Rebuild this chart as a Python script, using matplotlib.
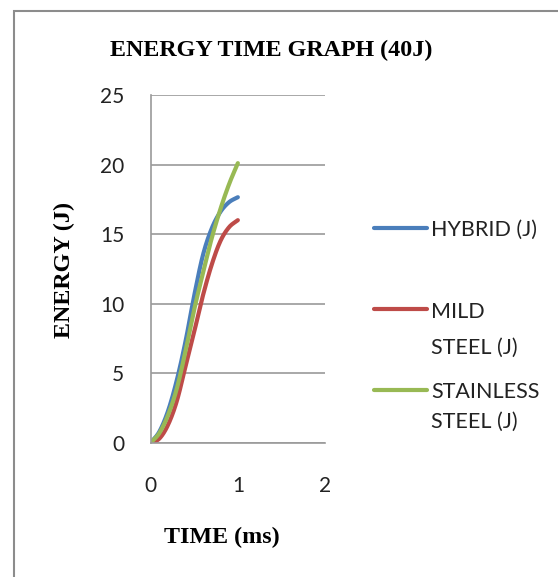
import numpy as np
import matplotlib
matplotlib.use("Agg")
import matplotlib.pyplot as plt
from matplotlib.lines import Line2D
from matplotlib.patches import Rectangle

# Energy absorbed over time for the three specimens (40 J impact)
time_ms = [0.0, 0.1, 0.2, 0.3, 0.4, 0.5, 0.6, 0.7, 0.8, 0.9, 1.0]
hybrid = [0.0, 0.8, 2.3, 4.5, 7.3, 10.6, 13.5, 15.4, 16.6, 17.3, 17.65]
mild_steel = [0.0, 0.3, 1.3, 3.0, 5.5, 8.0, 10.6, 12.8, 14.5, 15.5, 16.0]
stainless_steel = [0.0, 0.7, 2.0, 3.9, 6.6, 9.6, 12.2, 14.7, 16.8, 18.6, 20.1]

series_names = [["HYBRID (J)"], ["MILD", "STEEL (J)"], ["STAINLESS", "STEEL (J)"]]
series_colors = ["#4A7EBB", "#BE4B48", "#98B954"]
x_ticks = [0, 1, 2]
y_ticks = [0, 5, 10, 15, 20, 25]


def smooth(x, y, n=20):
    """Catmull-Rom curve through the points, like a smoothed scatter line."""
    x = np.asarray(x, float)
    y = np.asarray(y, float)
    px = np.concatenate([[2 * x[0] - x[1]], x, [2 * x[-1] - x[-2]]])
    py = np.concatenate([[2 * y[0] - y[1]], y, [2 * y[-1] - y[-2]]])
    xs, ys = [], []
    t = np.linspace(0, 1, n, endpoint=False)
    for i in range(1, len(px) - 2):
        for p, out in ((px, xs), (py, ys)):
            p0, p1, p2, p3 = p[i - 1], p[i], p[i + 1], p[i + 2]
            out.extend(0.5 * ((2 * p1) + (-p0 + p2) * t
                              + (2 * p0 - 5 * p1 + 4 * p2 - p3) * t ** 2
                              + (-p0 + 3 * p1 - 3 * p2 + p3) * t ** 3))
    xs.append(x[-1])
    ys.append(y[-1])
    return np.array(xs), np.array(ys)


W, H = 558, 577
fig = plt.figure(figsize=(W / 100, H / 100), dpi=100)
fig.patch.set_facecolor("white")

# chart frame
fig.add_artist(Rectangle((14 / W, -0.05), 1.2, 1 - 11 / H + 0.05,
                         transform=fig.transFigure, fill=False,
                         edgecolor="#8c8c8c", linewidth=1.5))

ax = fig.add_axes([150.7 / W, 1 - 442.7 / H, (325 - 150.7) / W, (442.7 - 95) / H])
ax.set_xlim(0, 2)
ax.set_ylim(0, 25)
ax.set_xticks(x_ticks)
ax.set_yticks(y_ticks)
ax.grid(axis="y", color="#9a9a9a", linewidth=1.2)
ax.set_axisbelow(True)
for side in ("top", "right"):
    ax.spines[side].set_visible(False)
for side in ("left", "bottom"):
    ax.spines[side].set_color("#9a9a9a")
    ax.spines[side].set_linewidth(1.2)
ax.tick_params(length=0, labelsize=15, labelcolor="#222222")
ax.tick_params(axis="y", pad=19)
ax.tick_params(axis="x", pad=24)
for lab in ax.get_xticklabels() + ax.get_yticklabels():
    lab.set_family("Lato")

for yv, color in zip([hybrid, mild_steel, stainless_steel], series_colors):
    sx, sy = smooth(time_ms, yv)
    ax.plot(sx, sy, color=color, linewidth=3.0, solid_capstyle="round")

serif = dict(family="Liberation Serif", weight="bold", color="black")
fig.text(271 / W, 1 - 50 / H, "ENERGY TIME GRAPH (40J)", ha="center", va="center",
         fontsize=17.3, **serif)
fig.text(222 / W, 1 - 537 / H, "TIME (ms)", ha="center", va="center",
         fontsize=17.3, **serif)
fig.text(64 / W, 1 - 270 / H, "ENERGY (J)", ha="center", va="center",
         rotation=90, fontsize=17.3, **serif)

# legend entries: handle y, then the y of each text line
legend_handle_y = [228, 309, 390]
legend_line_y = [[228], [310, 346], [390, 420]]
for lines, color, hy, ys in zip(series_names, series_colors, legend_handle_y, legend_line_y):
    fig.add_artist(Line2D([374 / W, 427 / W], [1 - hy / H] * 2,
                          transform=fig.transFigure, color=color,
                          linewidth=3.0, solid_capstyle="round"))
    for txt, ty in zip(lines, ys):
        fig.text(431 / W, 1 - ty / H, txt, ha="left", va="center_baseline",
                 fontsize=15.5, family="Lato", color="#222222")

fig.savefig("out.png", dpi=100, facecolor="white")
